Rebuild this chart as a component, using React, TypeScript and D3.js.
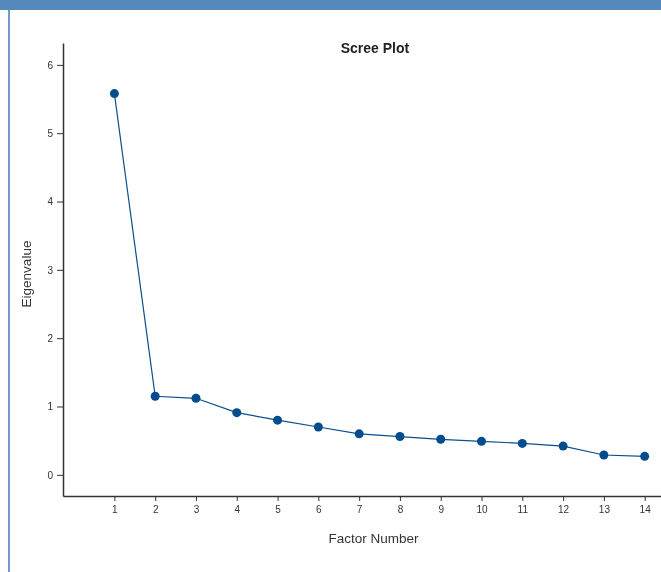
import React, { useEffect, useRef } from 'react';
import * as d3 from 'd3';

// Scree plot data
const factors = [1, 2, 3, 4, 5, 6, 7, 8, 9, 10, 11, 12, 13, 14];
const eigenvalues = [5.58, 1.15, 1.12, 0.91, 0.8, 0.7, 0.6, 0.56, 0.52, 0.49, 0.46, 0.42, 0.29, 0.27];
const yTicks = [0, 1, 2, 3, 4, 5, 6];

const W = 661, H = 572;

export default function App() {
    const ref = useRef<SVGSVGElement>(null);

    useEffect(() => {
        const svg = d3.select(ref.current);
        svg.selectAll('*').remove();

        const left = 63, right = 661, top = 43, bottom = 496;

        const x = d3.scaleLinear().domain([-0.26, 14.4]).range([left, right]);
        const y = d3.scaleLinear().domain([-0.31, 6.32]).range([bottom, top]);

        // frame decorations
        svg.append('rect').attr('x', 0).attr('y', 0).attr('width', W).attr('height', 10).attr('fill', '#5588bb');
        svg.append('rect').attr('x', 8).attr('y', 10).attr('width', 2).attr('height', H - 10).attr('fill', '#6f9bcc');

        const font = '"Liberation Sans", Arial, sans-serif';

        const yAxis = svg.append('g')
            .attr('transform', `translate(${left},0)`)
            .call(d3.axisLeft(y).tickValues(yTicks).tickFormat(d3.format('d')).tickSize(6).tickPadding(4).tickSizeOuter(0));
        const xAxis = svg.append('g')
            .attr('transform', `translate(0,${bottom})`)
            .call(d3.axisBottom(x).tickValues(factors).tickFormat(d3.format('d')).tickSize(5).tickPadding(5).tickSizeOuter(0));

        [yAxis, xAxis].forEach(g => {
            g.select('.domain').attr('stroke', '#333').attr('stroke-width', 1.5);
            g.selectAll('.tick line').attr('stroke', '#333');
            g.selectAll('.tick text').attr('fill', '#333').style('font-family', font).style('font-size', '10px');
        });

        const line = d3.line<number>()
            .x((d, i) => x(factors[i]))
            .y(d => y(d));

        svg.append('path')
            .datum(eigenvalues)
            .attr('d', line)
            .attr('fill', 'none')
            .attr('stroke', '#0a4f8c')
            .attr('stroke-width', 1.2);

        svg.selectAll('circle.pt')
            .data(eigenvalues)
            .enter().append('circle')
            .attr('class', 'pt')
            .attr('cx', (d, i) => x(factors[i]))
            .attr('cy', d => y(d))
            .attr('r', 4.5)
            .attr('fill', '#004c8c');

        svg.append('text')
            .attr('x', 375).attr('y', 53)
            .attr('text-anchor', 'middle')
            .style('font-family', font).style('font-size', '14px').style('font-weight', 'bold')
            .attr('fill', '#222')
            .text('Scree Plot');

        svg.append('text')
            .attr('x', 373.5).attr('y', 543)
            .attr('text-anchor', 'middle')
            .style('font-family', font).style('font-size', '13.5px')
            .attr('fill', '#333')
            .text('Factor Number');

        svg.append('text')
            .attr('transform', 'translate(31,274) rotate(-90)')
            .attr('text-anchor', 'middle')
            .style('font-family', font).style('font-size', '13.5px')
            .attr('fill', '#333')
            .text('Eigenvalue');
    }, []);

    return (
        <div style={{ position: 'fixed', left: 0, top: 0 }}>
            <svg ref={ref} width={W} height={H} style={{ display: 'block' }} />
        </div>
    );
}
